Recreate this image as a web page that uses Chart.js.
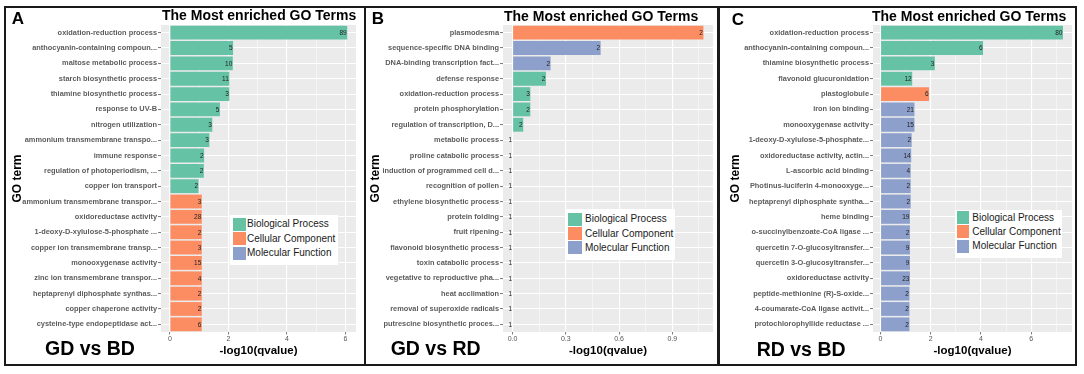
<!DOCTYPE html>
<html><head><meta charset="utf-8">
<script src="https://cdn.jsdelivr.net/npm/chart.js@4.4.0/dist/chart.umd.min.js"></script>
<style>
html,body{margin:0;padding:0;background:#fff;}
body{width:1084px;height:374px;position:relative;overflow:hidden;font-family:"Liberation Sans",Arial,sans-serif;}
.panel{position:absolute;border:2px solid #1a1a1a;box-sizing:border-box;}
canvas{position:absolute;}
.txt{position:absolute;white-space:nowrap;color:#000;font-weight:bold;line-height:1;}
.legend{position:absolute;background:#fff;z-index:5;}
.sq{position:absolute;}
.lt{position:absolute;font-size:10px;line-height:1;color:#1a1a1a;white-space:nowrap;}
</style></head>
<body>
<div class="panel" style="left:4px;top:6px;width:362px;height:360px"></div>
<div class="panel" style="left:364px;top:6px;width:356px;height:360px"></div>
<div class="panel" style="left:717px;top:6px;width:360px;height:360px"></div>
<canvas id="cA" width="358" height="356" style="left:6px;top:8px"></canvas>
<canvas id="cB" width="351" height="356" style="left:366px;top:8px"></canvas>
<canvas id="cC" width="356" height="356" style="left:719px;top:8px"></canvas>
<script>
// ---------- data ----------
const groupNames = ["Biological Process", "Cellular Component", "Molecular Function"];
const groupColors = ["#66C2A5", "#FC8D62", "#8DA0CB"];

const termsA = ["oxidation-reduction process","anthocyanin-containing compoun...","maltose metabolic process","starch biosynthetic process","thiamine biosynthetic process","response to UV-B","nitrogen utilization","ammonium transmembrane transpo...","immune response","regulation of photoperiodism, ...","copper ion transport","ammonium transmembrane transpor...","oxidoreductase activity","1-deoxy-D-xylulose-5-phosphate ...","copper ion transmembrane transp...","monooxygenase activity","zinc ion transmembrane transpor...","heptaprenyl diphosphate synthas...","copper chaperone activity","cysteine-type endopeptidase act..."];
const valuesA = [6.06, 2.16, 2.15, 2.03, 2.03, 1.71, 1.45, 1.35, 1.17, 1.16, 0.98, 1.09, 1.09, 1.09, 1.09, 1.09, 1.09, 1.09, 1.09, 1.09];
const groupsA = [0,0,0,0,0,0,0,0,0,0,0,1,1,1,1,1,1,1,1,1];
const countsA = [89, 5, 10, 11, 3, 5, 3, 3, 2, 2, 2, 3, 28, 2, 3, 15, 4, 2, 2, 6];

const termsB = ["plasmodesma","sequence-specific DNA binding","DNA-binding transcription fact...","defense response","oxidation-reduction process","protein phosphorylation","regulation of transcription, D...","metabolic process","proline catabolic process","induction of programmed cell d...","recognition of pollen","ethylene biosynthetic process","protein folding","fruit ripening","flavonoid biosynthetic process","toxin catabolic process","vegetative to reproductive pha...","heat acclimation","removal of superoxide radicals","putrescine biosynthetic proces..."];
const valuesB = [1.075, 0.496, 0.214, 0.188, 0.10, 0.10, 0.06, 0, 0, 0, 0, 0, 0, 0, 0, 0, 0, 0, 0, 0];
const groupsB = [1,2,2,0,0,0,0,0,0,0,0,0,0,0,0,0,0,0,0,0];
const countsB = [2, 2, 2, 2, 3, 2, 2, 1, 1, 1, 1, 1, 1, 1, 1, 1, 1, 1, 1, 1];

const termsC = ["oxidation-reduction process","anthocyanin-containing compoun...","thiamine biosynthetic process","flavonoid glucuronidation","plastoglobule","iron ion binding","monooxygenase activity","1-deoxy-D-xylulose-5-phosphate...","oxidoreductase activity, actin...","L-ascorbic acid binding","Photinus-luciferin 4-monooxyge...","heptaprenyl diphosphate syntha...","heme binding","o-succinylbenzoate-CoA ligase ...","quercetin 7-O-glucosyltransfer...","quercetin 3-O-glucosyltransfer...","oxidoreductase activity","peptide-methionine (R)-S-oxide...","4-coumarate-CoA ligase activit...","protochlorophyllide reductase ..."];
const valuesC = [7.26, 4.08, 2.16, 1.26, 1.93, 1.35, 1.35, 1.24, 1.22, 1.20, 1.20, 1.20, 1.17, 1.17, 1.17, 1.17, 1.17, 1.15, 1.15, 1.15];
const groupsC = [0,0,0,0,1,2,2,2,2,2,2,2,2,2,2,2,2,2,2,2];
const countsC = [80, 6, 3, 12, 6, 21, 15, 2, 14, 4, 2, 2, 19, 2, 9, 9, 23, 2, 2, 2];

const panelLetters = ["A", "B", "C"];
const comparisons = ["GD vs BD", "GD vs RD", "RD vs BD"];
const chartTitle = "The Most enriched GO Terms";
const xTitle = "-log10(qvalue)";
const yTitle = "GO term";

// ---------- layout (positions/styles) ----------
const layouts = [
  {id:"cA", xMin:-0.303, xMax:6.36, step:1, major:v=>Math.round(v)%2===0, fmt:v=>String(Math.round(v)),
   yWidth:155, padRight:8, yTitlePad:4.3,
   letter:{x:11.7, y:12.7}, title:{x:162, y:10.3}, comp:{x:45, y:341.7},
   legend:{x:230, y:215, w:108, h:50, row0:224.3, step:14.5, sqX:233, sqW:12.5, sqH:13, tx:247}},
  {id:"cB", xMin:-0.054, xMax:1.129, step:0.15, major:v=>Math.round(v*100)%30===0, fmt:v=>v.toFixed(1),
   yWidth:137, padRight:4, yTitlePad:2.8,
   letter:{x:371.7, y:12}, title:{x:504, y:10.8}, comp:{x:390.7, y:341.7},
   legend:{x:565, y:209.3, w:110, h:51, row0:219.3, step:14.2, sqX:568.3, sqW:13.4, sqH:13, tx:585}},
  {id:"cC", xMin:-0.3, xMax:7.62, step:1, major:v=>Math.round(v)%2===0, fmt:v=>String(Math.round(v)),
   yWidth:154, padRight:3, yTitlePad:9.8,
   letter:{x:731.7, y:13}, title:{x:872, y:11.3}, comp:{x:756.7, y:342.5},
   legend:{x:955, y:210, w:107, h:48, row0:217.7, step:14.2, sqX:956.7, sqW:12.6, sqH:13, tx:972.3}}
];
const datasets = [
  {terms:termsA, values:valuesA, groups:groupsA, counts:countsA},
  {terms:termsB, values:valuesB, groups:groupsB, counts:countsB},
  {terms:termsC, values:valuesC, groups:groupsC, counts:countsC}
];

function addText(text, x, capTop, size) {
  const d = document.createElement('div');
  d.className = 'txt';
  d.textContent = text;
  d.style.left = x + 'px';
  d.style.top = (capTop - 0.1305 * size) + 'px';
  d.style.fontSize = size + 'px';
  d.style.zIndex = 6;
  document.body.appendChild(d);
}

function addLegend(L) {
  const box = document.createElement('div');
  box.className = 'legend';
  box.style.left = L.x + 'px'; box.style.top = L.y + 'px';
  box.style.width = L.w + 'px'; box.style.height = L.h + 'px';
  groupNames.forEach((name, i) => {
    const cy = L.row0 + i * L.step - L.y;
    const sq = document.createElement('div');
    sq.className = 'sq';
    sq.style.left = (L.sqX - L.x) + 'px';
    sq.style.top = (cy - L.sqH / 2) + 'px';
    sq.style.width = L.sqW + 'px'; sq.style.height = L.sqH + 'px';
    sq.style.background = groupColors[i];
    box.appendChild(sq);
    const t = document.createElement('div');
    t.className = 'lt';
    t.textContent = name;
    t.style.left = (L.tx - L.x) + 'px';
    t.style.top = (cy - 0.8465 * 10 + 0.358 * 10) + 'px';
    box.appendChild(t);
  });
  document.body.appendChild(box);
}

const bgPlugin = {
  id: 'panelBg',
  beforeDraw(chart) {
    const {ctx, chartArea: a} = chart;
    ctx.save();
    ctx.fillStyle = '#EBEBEB';
    ctx.fillRect(a.left, a.top, a.right - a.left, a.bottom - a.top);
    ctx.restore();
  }
};

function makeLabelPlugin(counts) {
  return {
    id: 'countLabels',
    afterDatasetsDraw(chart) {
      const {ctx} = chart;
      const meta = chart.getDatasetMeta(0);
      ctx.save();
      ctx.font = '6.5px "Liberation Sans", Arial, sans-serif';
      ctx.fillStyle = '#1e1e1e';
      ctx.textAlign = 'right';
      ctx.textBaseline = 'middle';
      meta.data.forEach((bar, i) => {
        ctx.fillText(String(counts[i]), bar.x - 0.5, bar.y + 0.5);
      });
      ctx.restore();
    }
  };
}

layouts.forEach((L, p) => {
  const D = datasets[p];
  const canvas = document.getElementById(L.id);
  new Chart(canvas.getContext('2d'), {
    type: 'bar',
    data: {
      labels: D.terms,
      datasets: [{
        data: D.values,
        backgroundColor: D.groups.map(g => groupColors[g]),
        borderWidth: 0,
        barPercentage: 0.9,
        categoryPercentage: 1.0
      }]
    },
    options: {
      indexAxis: 'y',
      responsive: false,
      animation: false,
      devicePixelRatio: 1,
      layout: {autoPadding: false, padding: {left: 0, right: L.padRight, top: 17, bottom: 0}},
      plugins: {legend: {display: false}, tooltip: {enabled: false}, title: {display: false}},
      scales: {
        x: {
          type: 'linear', min: L.xMin, max: L.xMax,
          border: {display: false},
          grid: {
            color: '#FFFFFF',
            lineWidth: c => (c.tick && L.major(c.tick.value)) ? 1.1 : 0.5,
            drawTicks: true, tickLength: 2.5, tickWidth: 0.8,
            tickColor: c => (c.tick && L.major(c.tick.value)) ? '#555' : 'rgba(0,0,0,0)'
          },
          ticks: {
            stepSize: L.step, includeBounds: false, maxTicksLimit: 30, autoSkip: false, maxRotation: 0,
            font: {size: 7, family: '"Liberation Sans", Arial, sans-serif'}, color: '#555', padding: 0.5,
            callback: v => L.major(v) ? L.fmt(v) : ''
          },
          title: {display: true, text: xTitle, color: '#000',
            font: {size: 11.5, weight: 'bold', family: '"Liberation Sans", Arial, sans-serif'},
            padding: {top: 0, bottom: 6.1}},
          afterFit: s => { s.height = 32; }
        },
        y: {
          offset: true,
          border: {display: false},
          grid: {offset: false, color: '#FFFFFF', lineWidth: 1.1, drawTicks: true, tickLength: 3, tickWidth: 0.8, tickColor: '#555'},
          ticks: {autoSkip: false, padding: 1, color: '#5c5c5c',
            font: {size: 7.4, weight: 'bold', family: '"Liberation Sans", Arial, sans-serif'}},
          title: {display: true, text: yTitle, color: '#000',
            font: {size: 12, weight: 'bold', family: '"Liberation Sans", Arial, sans-serif'},
            padding: {top: L.yTitlePad, bottom: 0}},
          afterFit: s => { s.width = L.yWidth; }
        }
      }
    },
    plugins: [bgPlugin, makeLabelPlugin(D.counts)]
  });
  addText(panelLetters[p], L.letter.x, L.letter.y, 17);
  addText(chartTitle, L.title.x, L.title.y, 14);
  addText(comparisons[p], L.comp.x, L.comp.y, 19.5);
  addLegend(L.legend);
});
</script>
</body></html>
